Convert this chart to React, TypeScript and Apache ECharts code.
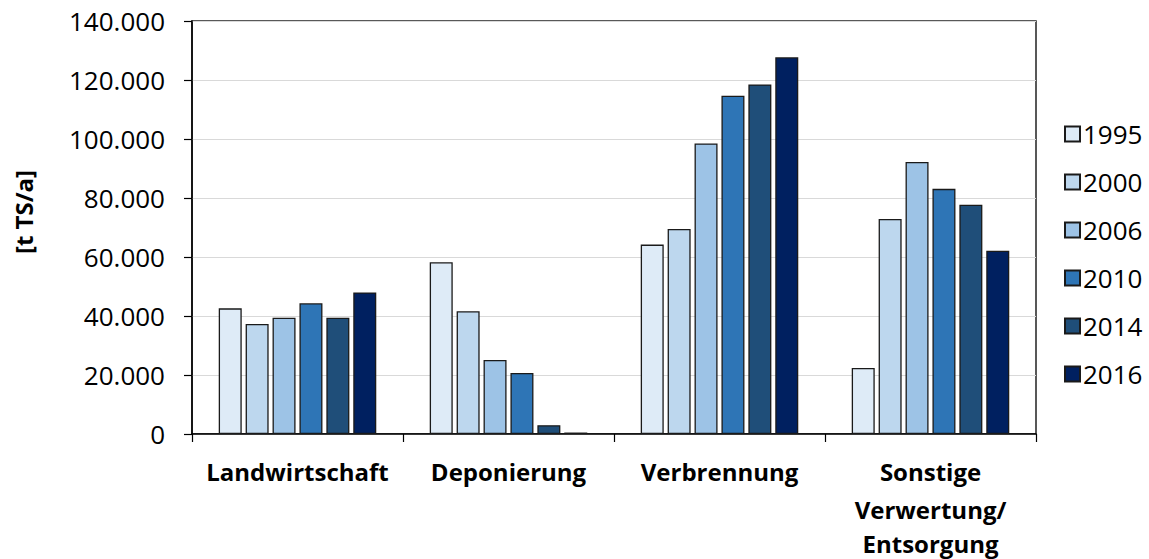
import React, { useEffect, useRef } from "react";
import * as echarts from "echarts";

const categories = ["Landwirtschaft", "Deponierung", "Verbrennung", "Sonstige\nVerwertung/\nEntsorgung"];
const years = ["1995", "2000", "2006", "2010", "2014", "2016"];
const colors = ["#DEEBF7", "#BDD7EE", "#9DC3E6", "#2E75B6", "#1F4E79", "#002060"];
const values1995 = [42600, 58200, 64200, 22400];
const values2000 = [37300, 41600, 69500, 72900];
const values2006 = [39400, 25100, 98500, 92200];
const values2010 = [44300, 20700, 114700, 83100];
const values2014 = [39400, 3000, 118500, 77700];
const values2016 = [48000, 500, 127700, 62100];
const seriesValues = [values1995, values2000, values2006, values2010, values2014, values2016];
const yAxisTitle = "[t TS/a]";

const FONT = "'Open Sans', 'DejaVu Sans', sans-serif";

function fmt(v: number): string {
  return String(Math.round(v)).replace(/\B(?=(\d{3})+(?!\d))/g, ".");
}

function catLabel(v: string): string {
  const parts = v.split("\n");
  return parts
    .map((s, i) => (parts.length > 1 && i === parts.length - 1 ? `{b|${s}}` : `{a|${s}}`))
    .join("\n");
}

export default function App() {
  const ref = useRef<HTMLDivElement>(null);
  useEffect(() => {
    if (!ref.current) return;
    const chart = echarts.init(ref.current, undefined, { renderer: "svg" });
    const labelStyle = { fontFamily: FONT, fontSize: 24, fontWeight: "bold", color: "#000" };
    chart.setOption({
      animation: false,
      backgroundColor: "#ffffff",
      textStyle: { fontFamily: FONT, color: "#000" },
      grid: {
        left: 192,
        right: 113,
        top: 21,
        bottom: 125,
        show: true,
        borderColor: "#222",
        borderWidth: 1.5,
        containLabel: false,
        outerBoundsMode: "none",
      },
      graphic: [
        {
          type: "text",
          x: 23,
          y: 212,
          rotation: Math.PI / 2,
          style: {
            text: yAxisTitle,
            fontFamily: FONT,
            fontSize: 24,
            fontWeight: "bold",
            fill: "#000",
            align: "center",
            verticalAlign: "middle",
          },
        },
      ],
      legend: {
        orient: "vertical",
        left: 1059,
        top: 116,
        itemWidth: 15,
        itemHeight: 15,
        itemGap: 22,
        icon: "rect",
        textStyle: { fontFamily: FONT, fontSize: 26, color: "#000", lineHeight: 25, padding: [0, 0, 0, -2] },
        data: years,
      },
      xAxis: {
        type: "category",
        data: categories,
        axisLine: { lineStyle: { color: "#000", width: 1.5 } },
        axisTick: { show: true, length: 8, lineStyle: { color: "#000", width: 1.2 } },
        axisLabel: {
          ...labelStyle,
          margin: 18,
          interval: 0,
          formatter: (v: string) => catLabel(v),
          rich: {
            a: { ...labelStyle, lineHeight: 38 },
            b: { ...labelStyle, lineHeight: 30 },
          },
        },
      },
      yAxis: {
        type: "value",
        min: 0,
        max: 140000,
        interval: 20000,
        axisLine: { show: true, lineStyle: { color: "#000", width: 1.5 } },
        axisTick: { show: true, length: 8, lineStyle: { color: "#000", width: 1.2 } },
        axisLabel: {
          fontFamily: FONT,
          fontSize: 26,
          color: "#000",
          margin: 27,
          formatter: (v: number) => fmt(v),
        },
        splitLine: { show: true, lineStyle: { color: "#d9d9d9", width: 1.2 } },
      },
      series: years.map((y, i) => ({
        name: y,
        type: "bar",
        data: seriesValues[i],
        barWidth: 23,
        barGap: "17%",
        itemStyle: { color: colors[i], borderColor: "#1a1a1a", borderWidth: 1.3 },
      })),
    });
    return () => chart.dispose();
  }, []);
  return <div ref={ref} style={{ width: 1149, height: 559, position: "absolute", left: 0, top: 0 }} />;
}
